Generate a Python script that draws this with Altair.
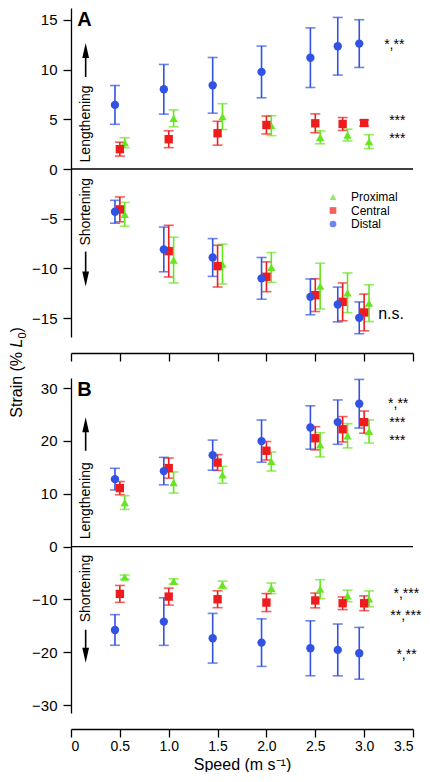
import altair as alt
import pandas as pd

speeds = [0.5, 1.0, 1.5, 2.0, 2.5, 2.78, 3.0]
series_names = ["Proximal", "Central", "Distal"]
series_offsets = [0.05, 0.0, -0.05]
series_colors = ["#66E620", "#EE1C1C", "#3152E3"]
series_shapes = ["triangle-up", "square", "circle"]
x_ticks = [0, 0.5, 1.0, 1.5, 2.0, 2.5, 3.0, 3.5]

# ---- Panel A: lengthening ----
a_len_mean = {
    "Proximal": [2.65, 5.1, 5.27, 4.36, 3.19, 3.42, 2.75],
    "Central": [2.0, 3.0, 3.6, 4.43, 4.6, 4.53, 4.63],
    "Distal": [6.45, 8.02, 8.42, 9.77, 11.2, 12.35, 12.62],
}
a_len_err = {
    "Proximal": [0.5, 0.85, 1.3, 1.0, 0.65, 0.6, 0.7],
    "Central": [0.7, 0.85, 1.2, 0.9, 0.95, 0.65, 0.3],
    "Distal": [1.95, 2.5, 2.8, 2.6, 3.0, 2.9, 2.4],
}
# ---- Panel A: shortening ----
a_sho_mean = {
    "Proximal": [-4.56, -9.16, -9.57, -9.9, -11.78, -12.45, -13.5],
    "Central": [-4.06, -8.26, -9.77, -10.84, -12.69, -13.36, -14.43],
    "Distal": [-4.3, -8.09, -8.9, -11.0, -12.86, -13.63, -14.97],
}
a_sho_err = {
    "Proximal": [1.2, 2.3, 2.0, 1.5, 2.3, 2.0, 1.85],
    "Central": [1.25, 2.6, 2.1, 1.5, 1.65, 1.9, 1.85],
    "Distal": [1.15, 2.25, 1.9, 2.1, 1.8, 1.75, 1.6],
}
# ---- Panel B: lengthening ----
b_len_mean = {
    "Proximal": [8.33, 12.12, 13.58, 16.1, 19.26, 20.97, 21.78],
    "Central": [11.06, 14.85, 15.9, 18.13, 20.5, 22.2, 23.55],
    "Distal": [12.76, 14.28, 17.3, 19.96, 22.54, 23.55, 27.03],
}
b_len_err = {
    "Proximal": [1.3, 2.0, 1.6, 1.8, 2.3, 2.3, 2.2],
    "Central": [1.25, 1.9, 1.5, 1.75, 2.2, 2.4, 2.1],
    "Distal": [2.05, 2.6, 2.85, 4.0, 4.1, 4.2, 4.6],
}
# ---- Panel B: shortening ----
b_sho_mean = {
    "Proximal": [-5.8, -6.6, -7.25, -7.9, -8.07, -9.34, -9.9],
    "Central": [-8.96, -9.47, -9.97, -10.6, -10.2, -10.73, -10.73],
    "Distal": [-15.78, -14.2, -17.35, -18.18, -19.25, -19.56, -20.2],
}
b_sho_err = {
    "Proximal": [0.4, 0.5, 0.7, 1.0, 1.8, 1.1, 1.5],
    "Central": [1.6, 1.6, 1.6, 1.7, 1.4, 1.2, 1.4],
    "Distal": [2.9, 4.5, 4.7, 4.5, 5.2, 4.9, 4.9],
}

# significance annotations
a_ann_x = [3.205, 3.256, 3.256, 3.144]
a_ann_y = [12.5, 4.8, 2.98, -14.6]
a_ann_text = ["*,**", "***", "***", "n.s."]
a_ann_size = [14, 14, 14, 16]
b_ann_x = [3.245, 3.256, 3.256, 3.3, 3.268, 3.33]
b_ann_y = [26.9, 23.3, 19.9, -9.0, -13.1, -20.6]
b_ann_text = ["*,**", "***", "***", "*,***", "**,***", "*,**"]
b_ann_size = [14, 14, 14, 14, 14, 14]

# direction labels and arrows
dir_x = 0.15
a_dir_y = [4.54, -4.3]
b_dir_y = [8.67, -7.93]
dir_text = ["Lengthening", "Shortening"]
a_shaft_y1 = [9.26, -8.31]
a_shaft_y2 = [11.48, -10.65]
a_head_up = 11.93
a_head_down = -11.06
b_shaft_y1 = [18.13, -15.75]
b_shaft_y2 = [22.0, -19.9]
b_head_up = 23.06
b_head_down = -20.58

a_domain = [-16.9, 16.2]
b_domain = [-31.5, 31.9]
a_ticks = [-15, -10, -5, 0, 5, 10, 15]
b_ticks = [-30, -20, -10, 0, 10, 20, 30]

FONT = "Liberation Sans"
W = 342
PX_A = 9.941   # pixels per unit, panel A
PX_B = 5.283   # pixels per unit, panel B
H_A = round((a_domain[1] - a_domain[0]) * PX_A)
H_B = round((b_domain[1] - b_domain[0]) * PX_B)


def frame(means, errs):
    rows = []
    for name, off in zip(series_names, series_offsets):
        for s, m, e in zip(speeds, means[name], errs[name]):
            rows.append({"speed": s + off, "series": name, "val": m,
                         "lo": m - e, "hi": m + e})
    return pd.DataFrame(rows)


legend = alt.Legend(orient="none", legendX=256, legendY=183, title=None,
                    labelFont=FONT, labelFontSize=12, symbolSize=45,
                    rowPadding=1.5, labelOffset=12, padding=0,
                    symbolStrokeWidth=0)
color = alt.Color("series:N", scale=alt.Scale(domain=series_names, range=series_colors),
                  legend=legend)
shape = alt.Shape("series:N", scale=alt.Scale(domain=series_names, range=series_shapes),
                  legend=legend)


def panel(df, domain, height, yticks, bottom, xoffset, ann, dir_y, shaft, heads,
          letter, extra=None):
    xaxis = alt.Axis(values=x_ticks, labels=bottom, offset=xoffset, tickSize=8,
                     tickWidth=1.3, domainWidth=1.3, domainColor="black",
                     tickColor="black", labelColor="black", labelFont=FONT,
                     labelFontSize=14, labelPadding=2, grid=False,
                     labelExpr="datum.value == 0 ? '0' : format(datum.value, '.1f')",
                     title="Speed (m s⁻¹)" if bottom else None,
                     titleFont=FONT, titleFontSize=16, titleFontWeight="normal",
                     titleColor="black", titlePadding=3)
    yaxis = alt.Axis(values=yticks, tickSize=8, tickWidth=1.3, domainWidth=1.3,
                     domainColor="black", tickColor="black", labelColor="black",
                     labelFont=FONT, labelFontSize=15, labelPadding=6, grid=False,
                     title=None)
    xs = alt.Scale(domain=[0, 3.5], nice=False, zero=False)
    ys = alt.Scale(domain=domain, nice=False, zero=False)

    def X(f):
        return alt.X(f"{f}:Q", scale=xs, axis=xaxis)

    def Y(f):
        return alt.Y(f"{f}:Q", scale=ys, axis=yaxis)

    zero = alt.Chart(pd.DataFrame({"val": [0]})).mark_rule(
        color="black", strokeWidth=1.3).encode(y=Y("val"))
    err = alt.Chart(df).mark_errorbar(ticks=True, size=10, thickness=1.6).encode(
        x=X("speed"), y=Y("lo"), y2="hi", color=color)
    pts = alt.Chart(df).mark_point(filled=True, size=70, opacity=1).encode(
        x=X("speed"), y=Y("val"), color=color, shape=shape)
    annd = pd.DataFrame({"speed": ann[0], "val": ann[1], "label": ann[2], "fs": ann[3]})
    anns = alt.Chart(annd).mark_text(align="left", baseline="middle", font=FONT,
                                     color="black").encode(
        x=X("speed"), y=Y("val"), text="label:N",
        size=alt.Size("fs:Q", scale=None, legend=None))
    dird = pd.DataFrame({"speed": [dir_x, dir_x], "val": dir_y, "label": dir_text})
    dirs = alt.Chart(dird).mark_text(angle=270, align="center", baseline="middle",
                                     font=FONT, fontSize=14, color="black").encode(
        x=X("speed"), y=Y("val"), text="label:N")
    shd = pd.DataFrame({"speed": [dir_x, dir_x], "val": shaft[0], "val2": shaft[1]})
    shafts = alt.Chart(shd).mark_rule(color="black", strokeWidth=1.6).encode(
        x=X("speed"), y=Y("val"), y2="val2")
    up = alt.Chart(pd.DataFrame({"speed": [dir_x], "val": [heads[0]]})).mark_point(
        shape="M-0.45,1L0,-1L0.45,1Z", size=225, filled=True, color="black",
        opacity=1).encode(x=X("speed"), y=Y("val"))
    down = alt.Chart(pd.DataFrame({"speed": [dir_x], "val": [heads[1]]})).mark_point(
        shape="M-0.45,-1L0,1L0.45,-1Z", size=225, filled=True, color="black",
        opacity=1).encode(x=X("speed"), y=Y("val"))
    lab = alt.Chart(pd.DataFrame({"speed": [0.065], "val": [letter[1]],
                                  "label": [letter[0]]})).mark_text(
        align="left", baseline="middle", font=FONT, fontSize=20, fontWeight="bold",
        color="black").encode(x=X("speed"), y=Y("val"), text="label:N")
    layers = [zero, err, pts, anns, dirs, shafts, up, down, lab]
    if extra:
        layers += extra
    return alt.layer(*layers).properties(width=W, height=height)


dfA = pd.concat([frame(a_len_mean, a_len_err), frame(a_sho_mean, a_sho_err)])
dfB = pd.concat([frame(b_len_mean, b_len_err), frame(b_sho_mean, b_sho_err)])

# y-axis title pieces: "Strain (% " + italic L + subscript 0 + ")"
title_text = ["Strain (% ", "L", "0", ")"]
title_x = [-49, -49, -45.5, -49]
title_y = [39.7, -30.5, -39.4, -45.5]
title_size = [16, 16, 11, 16]
title_style = ["normal", "italic", "normal", "normal"]
title_layers = []
for t, tx, ty, ts, st in zip(title_text, title_x, title_y, title_size, title_style):
    title_layers.append(
        alt.Chart(pd.DataFrame({"t": [t]})).mark_text(
            angle=270, align="left", baseline="alphabetic", font=FONT,
            fontSize=ts, fontStyle=st, color="black").encode(
            x=alt.value(tx), y=alt.value(ty), text="t:N"))

A = panel(dfA, a_domain, H_A, a_ticks, False, 16, (a_ann_x, a_ann_y, a_ann_text, a_ann_size),
          a_dir_y, (a_shaft_y1, a_shaft_y2), (a_head_up, a_head_down), ("A", 14.99))
B = panel(dfB, b_domain, H_B, b_ticks, True, 16, (b_ann_x, b_ann_y, b_ann_text, b_ann_size),
          b_dir_y, (b_shaft_y1, b_shaft_y2), (b_head_up, b_head_down), ("B", 29.55),
          extra=title_layers)

chart = alt.vconcat(A, B, spacing=41, bounds="flush").resolve_scale(
    y="independent", x="shared", color="shared", shape="shared"
).properties(
    padding={"left": 0, "top": 0, "right": 0, "bottom": 0}
).configure_view(stroke=None)

chart.save("out.html", embed_options={"renderer": "svg", "actions": False})
